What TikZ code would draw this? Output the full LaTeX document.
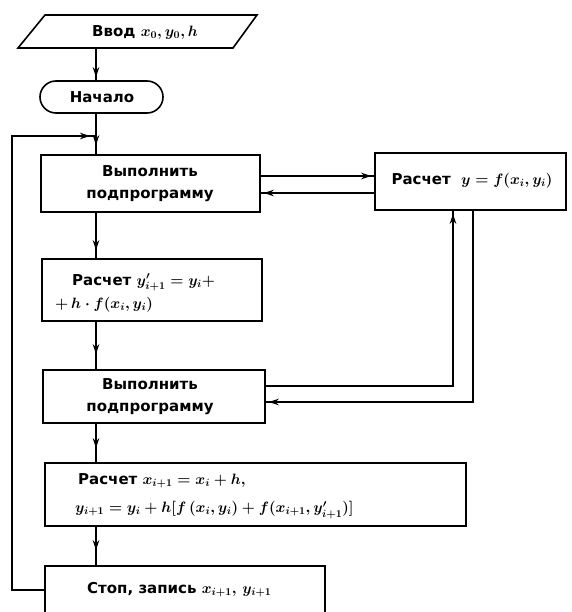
\RequirePackage{fix-cm}
\documentclass[tikz,border=0pt]{standalone}
\usepackage{fontspec}
\setmainfont{DejaVu Sans}
\usetikzlibrary{arrows.meta,decorations.markings}
\tikzset{
  ln/.style={line width=1.6pt},
  box/.style={draw, line width=1.6pt, inner sep=0pt},
  txt/.style={font=\fontsize{15}{19}\selectfont\bfseries\boldmath, inner sep=0pt},
  arrowend/.style={postaction={decorate},decoration={markings,mark=at position #1 with {\arrow{Stealth[length=10pt,width=6.5pt]}}}}
}
\begin{document}
\begin{tikzpicture}[x=1pt,y=-1pt]
\useasboundingbox (0,0) rectangle (571,612);
\fill[white] (0,0) rectangle (571,612);
\coordinate (t) at (96,0);
% input parallelogram
\draw[ln] (18,48) -- (45,15) -- (257,15) -- (233,48) -- cycle;
\coordinate (pin) at (96,48);
\node[txt, anchor=west] (inp) at (92,32) {Ввод $x_0,y_0,h$};
% start
\node[box, rounded corners=16pt, minimum width=123pt, minimum height=32pt] (start) at (101.5,97) {};
\node[txt] (starttxt) at (102,97) {Начало};
% boxes
\node[box, minimum width=219pt, minimum height=57pt] (b1) at (150.5,183.5) {};
\node[txt, align=center, font=\fontsize{15}{22}\selectfont\bfseries] (b1t) at (150,184) {Выполнить\\подпрограмму};
\node[box, minimum width=191pt, minimum height=57pt] (R) at (470.5,181.5) {};
\node[txt] (Rt) at (472,181) {Расчет\ \ $y=f(x_i,y_i)$};
\node[box, minimum width=220pt, minimum height=62pt] (b2) at (152,290) {};
\node[txt, anchor=west, align=left, font=\fontsize{15}{23}\selectfont\bfseries\boldmath] (b2t) at (55,293) {\hspace*{17pt}Расчет $y^{\prime}_{i+1}=y_i+$\\$+\,h\cdot f(x_i,y_i)$};
\node[box, minimum width=222pt, minimum height=53pt] (b3) at (154,396.5) {};
\node[txt, align=center, font=\fontsize{15}{22}\selectfont\bfseries] (b3t) at (150,397) {Выполнить\\подпрограмму};
\node[box, minimum width=421pt, minimum height=63pt] (b4) at (255.5,494.5) {};
\node[txt, anchor=west, align=left, font=\fontsize{15}{28}\selectfont\bfseries\boldmath] (b4t) at (75,496) {\hspace*{3pt}Расчет $x_{i+1}=x_i+h,$\\$y_{i+1}=y_i+h[f\,(x_i,y_i)+f(x_{i+1},y^{\prime}_{i+1})]$};
\node[box, minimum width=280pt, minimum height=48pt] (b5) at (185,590) {};
\node[txt, anchor=west] (b5t) at (87,590) {Стоп, запись $x_{i+1},\,y_{i+1}$};
% connectors
\draw[ln, arrowend=-3pt] (pin) -- (start.north -| t);
\draw[ln, arrowend=-9pt] (start.south -| t) -- (b1.north -| t);
\coordinate (lc) at (12,136);
\coordinate (jn) at (96,136);
\draw[ln, arrowend=-6pt] (b5.west) -- (b5.west -| lc) -- (lc) -- (jn);
\draw[ln, arrowend=-3pt] ([yshift=7.5pt]b1.east) -- ([yshift=5.5pt]R.west);
\draw[ln, arrowend=-3pt] ([yshift=-11.5pt]R.west) -- ([yshift=-9.5pt]b1.east);
\draw[ln, arrowend=-8pt] (b1.south -| t) -- (b2.north -| t);
\draw[ln, arrowend=-15pt] (b2.south -| t) -- (b3.north -| t);
\draw[ln, arrowend=-3pt] ([yshift=10.5pt]b3.east) -| ([xshift=-17.5pt]R.south);
\draw[ln, arrowend=-3pt] ([xshift=2.5pt]R.south) |- ([yshift=-5.5pt]b3.east);
\draw[ln, arrowend=-14pt] (b3.south -| t) -- (b4.north -| t);
\draw[ln, arrowend=-15pt] (b4.south -| t) -- (b5.north -| t);
\end{tikzpicture}
\end{document}
